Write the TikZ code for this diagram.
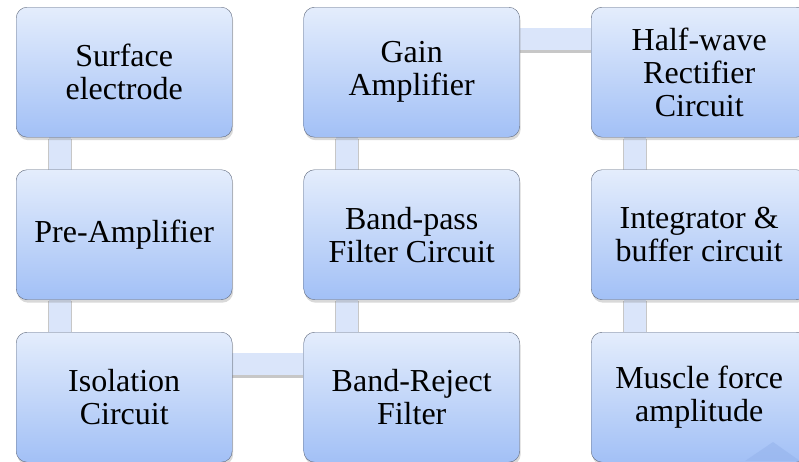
\documentclass[tikz,border=0pt]{standalone}
\usepackage{fontspec}
\setmainfont{Liberation Serif}
\usepackage{tikz}
\usetikzlibrary{shadows,backgrounds}
\definecolor{boxtop}{RGB}{228,237,252}
\definecolor{boxbot}{RGB}{162,192,246}
\definecolor{boxline}{RGB}{95,105,125}
\definecolor{linkc}{RGB}{218,229,250}
\definecolor{tric}{RGB}{150,180,236}
\begin{document}
\begin{tikzpicture}[x=1pt,y=-1pt,stage/.style={shape=rectangle,rounded corners=11pt,draw=boxline,thin,top color=boxtop,bottom color=boxbot,minimum width=216pt,minimum height=130pt,anchor=north west,align=center,font=\fontsize{32}{33}\selectfont,drop shadow={shadow xshift=1pt,shadow yshift=-3pt,opacity=0.3}},link/.style={draw=linkc,line width=22pt,preaction={draw=black!22,line width=24pt,transform canvas={yshift=-1.5pt}}}]
\def\bx{43.5};
\def\by{32};
\def\cxa{16};
\def\cxb{303.5};
\def\cxc{591};
\def\rya{7};
\def\ryb{169.5};
\def\ryc{332};

\useasboundingbox (0,0) rectangle (799,461);

\node[stage] (S) at (\cxa,\rya) {Surface\\electrode};
\node[stage] (P) at (\cxa,\ryb) {Pre-Amplifier};
\node[stage] (I) at (\cxa,\ryc) {Isolation\\Circuit};

\node[stage] (G) at (\cxb,\rya) {Gain\\Amplifier};
\node[stage] (BP) at (\cxb,\ryb) {Band-pass\\Filter Circuit};
\node[stage] (BR) at (\cxb,\ryc) {Band-Reject\\Filter};

\node[stage] (H) at (\cxc,\rya) {Half-wave\\Rectifier\\Circuit};
\node[stage] (N) at (\cxc,\ryb) {Integrator \&\\buffer circuit};
\node[stage] (M) at (\cxc,\ryc) {Muscle force\\amplitude};

\begin{scope}[on background layer]
\draw[link] ([xshift=\bx]S.south west) -- ([xshift=\bx]P.north west);
\draw[link] ([xshift=\bx]P.south west) -- ([xshift=\bx]I.north west);
\draw[link] ([yshift=-\by]I.north east) -- ([yshift=-\by]BR.north west);
\draw[link] ([xshift=\bx]BR.north west) -- ([xshift=\bx]BP.south west);
\draw[link] ([xshift=\bx]BP.north west) -- ([xshift=\bx]G.south west);
\draw[link] ([yshift=-\by]G.north east) -- ([yshift=-\by]H.north west);
\draw[link] ([xshift=\bx]H.south west) -- ([xshift=\bx]N.north west);
\draw[link] ([xshift=\bx]N.south west) -- ([xshift=\bx]M.north west);
\end{scope}

\fill[tric,opacity=0.6] (745,461) -- (773,442) -- (800,461) -- cycle;
\end{tikzpicture}
\end{document}
